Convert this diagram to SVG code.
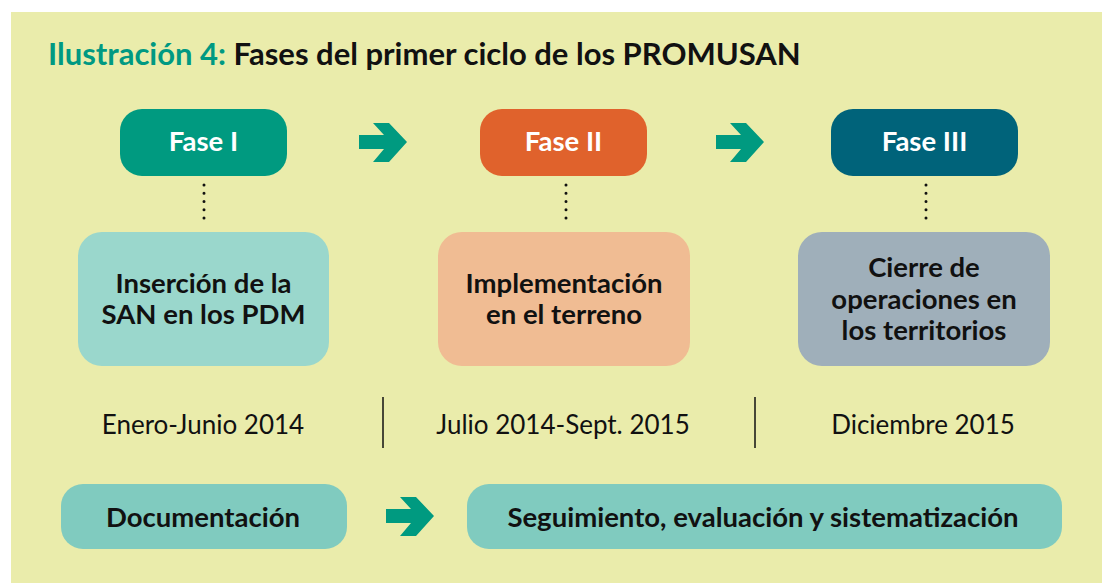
<svg xmlns="http://www.w3.org/2000/svg" width="1102" height="583" viewBox="0 0 1102 583">
<defs>
<style>
.t{font-family:Lato,"Open Sans","DejaVu Sans",sans-serif;text-anchor:middle}
.fase{fill:#ffffff;font-size:27.5px;font-weight:700}
.mid{fill:#111111;font-size:27.5px;font-weight:700}
.date{fill:#111111;font-size:26px;font-weight:400}
.bot{fill:#111111;font-size:27.5px;font-weight:700}
.arrow{fill:#009A80}
.dots{stroke:#111;stroke-width:3;stroke-linecap:round;stroke-dasharray:0 8.25;fill:none}
.sep{stroke:#111;stroke-width:1.5}
</style>
<polygon id="arr" class="arrow" points="0,12 25,12 14,0 30,0 48,19 30,39 14,39 25,26 0,26"/>
</defs>
<rect x="11" y="12" width="1091" height="571" fill="#EAECAB"/>
<text x="48" y="65" font-family="Lato,'Open Sans',sans-serif" font-size="31" font-weight="700"><tspan fill="#009982">Ilustración 4: </tspan><tspan fill="#111111">Fases del primer ciclo de los PROMUSAN</tspan></text>

<g id="fase1"><rect x="120" y="109" width="167" height="67" rx="22" fill="#009A80"/><text class="t fase" x="203.5" y="151">Fase I</text></g>
<g id="fase2"><rect x="480" y="109" width="167" height="67" rx="22" fill="#E0622C"/><text class="t fase" x="563.5" y="151">Fase II</text></g>
<g id="fase3"><rect x="831" y="109" width="187" height="67" rx="22" fill="#00637A"/><text class="t fase" x="924.5" y="151">Fase III</text></g>

<g id="box1"><rect x="78" y="232" width="251" height="134" rx="24" fill="#9AD7CC"/><text class="t mid" x="203.5" y="293">Inserción de la</text><text class="t mid" x="203.5" y="324">SAN en los PDM</text></g>
<g id="box2"><rect x="438" y="232" width="252" height="134" rx="24" fill="#F0BC93"/><text class="t mid" x="564" y="293">Implementación</text><text class="t mid" x="564" y="324">en el terreno</text></g>
<g id="box3"><rect x="798" y="232" width="252" height="134" rx="24" fill="#9FAFBA"/><text class="t mid" x="924" y="277">Cierre de</text><text class="t mid" x="924" y="309">operaciones en</text><text class="t mid" x="924" y="340">los territorios</text></g>

<g id="dates">
<text class="t date" x="203" y="434">Enero-Junio 2014</text>
<text class="t date" x="563" y="434">Julio 2014-Sept. 2015</text>
<text class="t date" x="923" y="434">Diciembre 2015</text>
<line class="sep" x1="383" y1="397" x2="383" y2="448"/>
<line class="sep" x1="755" y1="397" x2="755" y2="448"/>
</g>

<g id="doc"><rect x="61" y="484" width="286" height="65" rx="22" fill="#80CBBF"/><text class="t bot" x="203" y="527">Documentación</text></g>
<g id="seg"><rect x="467" y="484" width="595" height="65" rx="22" fill="#80CBBF"/><text class="t bot" x="763" y="527">Seguimiento, evaluación y sistematización</text></g>

<g id="connectors">
<use href="#arr" x="359" y="123"/>
<use href="#arr" x="716" y="123"/>
<use href="#arr" x="386" y="497"/>
<path class="dots" d="M204 185V219"/>
<path class="dots" d="M566 185V219"/>
<path class="dots" d="M926 185V219"/>
</g>
</svg>
